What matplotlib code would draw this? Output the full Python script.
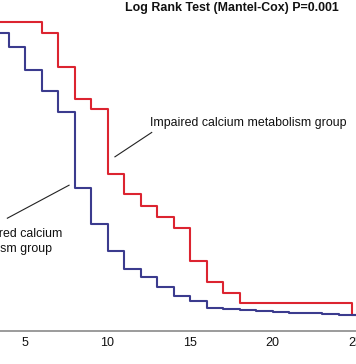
import matplotlib
matplotlib.use("Agg")
import matplotlib.pyplot as plt

plt.rcParams['font.family'] = ['Liberation Sans', 'DejaVu Sans']

# Kaplan-Meier curves (months vs. survival fraction)
red_times = [0, 6, 7, 8, 9, 10, 11, 12, 13, 14, 15, 16, 17, 18, 24.8, 26]
red_surv = [1.0, 0.965, 0.855, 0.751, 0.717, 0.507, 0.442, 0.404, 0.367,
            0.331, 0.226, 0.156, 0.123, 0.088, 0.051, 0.051]

blue_times = [0, 4, 5, 6, 7, 8, 9, 10, 11, 12, 13, 14, 15, 16, 17, 18, 19,
              20, 21, 22, 23, 24, 26]
blue_surv = [0.965, 0.920, 0.844, 0.777, 0.708, 0.461, 0.344, 0.259, 0.198,
             0.172, 0.142, 0.112, 0.097, 0.073, 0.071, 0.067, 0.064, 0.060,
             0.057, 0.056, 0.053, 0.051, 0.051]

xticks = [5, 10, 15, 20, 25]
xtick_labels = ['5', '10', '15', '20', '25']

title = 'Log Rank Test (Mantel-Cox) P=0.001'
label_impaired = 'Impaired calcium metabolism group'
label_unimpaired = 'Unimpaired calcium\nmetabolism group'

W, H = 356, 364
fig = plt.figure(figsize=(W / 100, H / 100), dpi=100)

x0_px = -57.5      # pixel position of x=0
px_per_x = 16.5
y0_px = 330.5      # pixel (from top) of y=0
px_per_y = 308.5
xmax = 26
ymax = 1.05

left = x0_px / W
width = xmax * px_per_x / W
bottom = (H - y0_px) / H
height = ymax * px_per_y / H
ax = fig.add_axes([left, bottom, width, height])
ax.set_xlim(0, xmax)
ax.set_ylim(0, ymax)

ax.step(red_times, red_surv, where='post', color='#DC2430', lw=1.5)
ax.step(blue_times, blue_surv, where='post', color='#3B3B8E', lw=1.5)

for s in ['top', 'right', 'left']:
    ax.spines[s].set_visible(False)
ax.spines['bottom'].set_color('#8a8a8a')
ax.spines['bottom'].set_linewidth(1.2)
ax.set_yticks([])
ax.set_xticks(xticks)
ax.set_xticklabels(xtick_labels, fontsize=9)
ax.tick_params(axis='x', length=0, pad=4.5, colors='#111111')

# annotations
ax.text(12.58, 0.674, label_impaired, fontsize=8.9, ha='left', va='center',
        color='#111111')
ax.text(0.65, 0.288, label_unimpaired, fontsize=8.9, ha='left', va='center',
        color='#111111', linespacing=1.35)
ax.plot([3.93, 7.67], [0.364, 0.471], color='#222222', lw=0.8)
ax.plot([10.45, 12.68], [0.563, 0.642], color='#222222', lw=0.8)

fig.text(338.3 / W, (H - 11) / H, title, fontsize=8.9, fontweight='bold',
         ha='right', va='baseline', color='#111111')

fig.savefig('out.png', dpi=100)
